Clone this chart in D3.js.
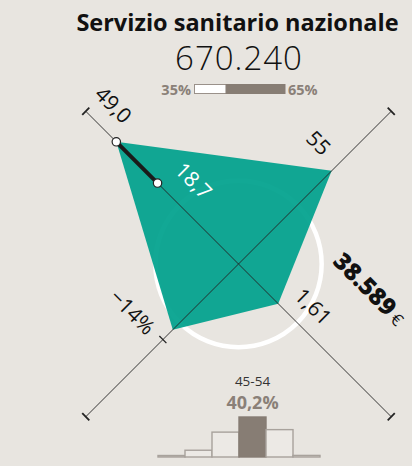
<!DOCTYPE html>
<html><head><meta charset="utf-8">
<script src="https://cdn.jsdelivr.net/npm/d3@7"></script>
<style>
html,body{margin:0;padding:0;background:#e8e5e0;}
svg{display:block;font-family:"Open Sans",sans-serif;}
</style></head>
<body>
<svg id="c" width="412" height="466"></svg>
<script>
// ---- data ----
const title = "Servizio sanitario nazionale";
const total = "670.240";
const genderLabels = ["35%", "65%"];
const genderShares = [35, 65];
// radar axes: TL, TR, BR, BL  (normalized position along axis)
const axisKeys = ["eta", "anzianita", "stipendio", "variazione"];
const axisAngles = [-135, -45, 45, 135];
const axisValues = [0.80, 0.61, 0.26, 0.43];
const axisLabels = ["49,0", "55", "1,61", "−14%"];
const innerValue = 0.53;      // second marker on first axis
const innerLabel = "18,7";
const refCircle = 0.385;
const bracketTick = 0.495;    // tick on BL axis
const salaryLabel = "38.589";
const ageGroups = ["<25", "25-34", "35-44", "45-54", "55-64", "65+"];
const ageShares = [1.5, 6.8, 25, 40.2, 27.5, 1.6];
const highlightAge = "45-54";
const highlightLabel = "40,2%";

const svg = d3.select("#c");
const cx = 238.5, cy = 264;
const r = d3.scaleLinear().domain([0, 1]).range([0, 216]);
const rad = a => a * Math.PI / 180;
const pt = (i, v) => [cx + r(v) * Math.cos(rad(axisAngles[i])), cy + r(v) * Math.sin(rad(axisAngles[i]))];
const teal = "#00a18d", grayB = "#877d74";

// title
svg.append("text").attr("x", 237.5).attr("y", 31).attr("text-anchor", "middle")
  .attr("font-weight", 700).attr("font-size", 23.5).attr("fill", "#111").text(title);
svg.append("text").attr("x", 239).attr("y", 70).attr("text-anchor", "middle")
  .attr("font-weight", 300).attr("font-size", 33).attr("letter-spacing", 1).attr("fill", "#111").text(total);

// gender bar
const gx = d3.scaleLinear().domain([0, 100]).range([194.5, 285]);
svg.append("rect").attr("x", gx(0)).attr("y", 84.5).attr("width", gx(genderShares[0]) - gx(0)).attr("height", 9)
  .attr("fill", "#fff").attr("stroke", "#9a918a").attr("stroke-width", 1);
svg.append("rect").attr("x", gx(genderShares[0])).attr("y", 84.5).attr("width", gx(100) - gx(genderShares[0])).attr("height", 9)
  .attr("fill", grayB).attr("stroke", grayB).attr("stroke-width", 1);
svg.append("text").attr("x", 191).attr("y", 95).attr("text-anchor", "end").attr("font-weight", 700)
  .attr("font-size", 14.5).attr("fill", "#8a8078").text(genderLabels[0]);
svg.append("text").attr("x", 288).attr("y", 95).attr("font-weight", 700)
  .attr("font-size", 14.5).attr("fill", "#8a8078").text(genderLabels[1]);

// reference circle
svg.append("circle").attr("cx", cx).attr("cy", cy).attr("r", r(refCircle))
  .attr("fill", "none").attr("stroke", "#fff").attr("stroke-width", 4.5);

// polygon
const poly = axisValues.map((v, i) => pt(i, v));
svg.append("path").attr("d", d3.line()(poly) + "Z").attr("fill", teal).attr("fill-opacity", 0.93);

// axes
axisAngles.forEach((a, i) => {
  const e = pt(i, 1);
  svg.append("line").attr("x1", cx).attr("y1", cy).attr("x2", e[0]).attr("y2", e[1])
    .attr("stroke", "#222").attr("stroke-width", 0.9);
  const pa = rad(a + 90), L = 5;
  svg.append("line").attr("x1", e[0] - L * Math.cos(pa)).attr("y1", e[1] - L * Math.sin(pa))
    .attr("x2", e[0] + L * Math.cos(pa)).attr("y2", e[1] + L * Math.sin(pa))
    .attr("stroke", "#222").attr("stroke-width", 1.8);
});
// BL tick
{
  const e = pt(3, bracketTick), pa = rad(axisAngles[3] + 90), L = 5;
  svg.append("line").attr("x1", e[0] - L * Math.cos(pa)).attr("y1", e[1] - L * Math.sin(pa))
    .attr("x2", e[0] + L * Math.cos(pa)).attr("y2", e[1] + L * Math.sin(pa))
    .attr("stroke", "#222").attr("stroke-width", 1.3);
}

// thick segment + dots on TL axis
const o = pt(0, axisValues[0]), n = pt(0, innerValue);
svg.append("line").attr("x1", o[0]).attr("y1", o[1]).attr("x2", n[0]).attr("y2", n[1])
  .attr("stroke", "#1a1a1a").attr("stroke-width", 4);
[o, n].forEach(p => svg.append("circle").attr("cx", p[0]).attr("cy", p[1]).attr("r", 4.2)
  .attr("fill", "#fff").attr("stroke", "#222").attr("stroke-width", 1.2));

// axis labels (rotated 45)
function lab(i, along, perpAng, perp, txt, color, anchor, size, weight) {
  const a = rad(axisAngles[i]), pa = rad(perpAng);
  const x = cx + along * Math.cos(a) + perp * Math.cos(pa);
  const y = cy + along * Math.sin(a) + perp * Math.sin(pa);
  return svg.append("text").attr("transform", `translate(${x},${y}) rotate(45)`)
    .attr("text-anchor", anchor).attr("dy", "0.35em").attr("font-size", size)
    .attr("font-weight", weight || 400).attr("fill", color).text(txt);
}
lab(0, 201, -45, 24, axisLabels[0], "#111", "middle", 21);
lab(0, 90.5, -45, 27, innerLabel, "#fff", "middle", 21);
lab(1, 142, -135, 29, axisLabels[1], "#111", "middle", 21);
lab(2, 83, -45, 22.6, axisLabels[2], "#111", "middle", 21);
lab(3, 109, -135, 41, axisLabels[3], "#111", "middle", 21);

// salary label
const sl = svg.append("text").attr("transform", "translate(368,291) rotate(45)")
  .attr("text-anchor", "middle").attr("dy", "0.35em").attr("fill", "#111");
sl.append("tspan").attr("font-size", 24).attr("font-weight", 800).text(salaryLabel);
sl.append("tspan").attr("font-size", 17).attr("dx", 4).text("€");

// histogram
const hx = d3.scaleBand().domain(ageGroups).range([158, 320]).padding(0);
const hy = d3.scaleLinear().domain([0, 40.2]).range([457, 417]);
svg.selectAll("rect.h").data(ageGroups).join("rect").attr("class", "h")
  .attr("x", d => hx(d)).attr("width", hx.bandwidth())
  .attr("y", (d, i) => hy(ageShares[i])).attr("height", (d, i) => 457 - hy(ageShares[i]))
  .attr("fill", d => d === highlightAge ? grayB : "#ece9e5")
  .attr("stroke", d => d === highlightAge ? grayB : "#a8a29c").attr("stroke-width", 1.4);
const hc = hx(highlightAge) + hx.bandwidth() / 2;
svg.append("text").attr("x", hc).attr("y", 386).attr("text-anchor", "middle")
  .attr("font-size", 13.5).attr("fill", "#333").text(highlightAge);
svg.append("text").attr("x", hc).attr("y", 409).attr("text-anchor", "middle")
  .attr("font-size", 18).attr("font-weight", 700).attr("fill", "#8a8078").text(highlightLabel);
</script>
</body></html>
